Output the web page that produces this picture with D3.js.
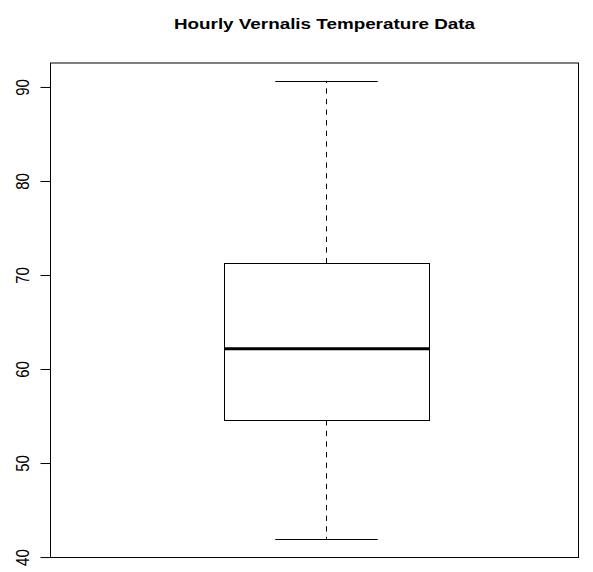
<!DOCTYPE html>
<html>
<head>
<meta charset="utf-8">
<script src="https://cdn.jsdelivr.net/npm/d3@7"></script>
<style>
  html, body { margin: 0; padding: 0; background: #fff; }
  svg { display: block; }
  text { font-family: "Liberation Sans", Arial, Helvetica, sans-serif; fill: #000; }
</style>
</head>
<body>
<svg id="chart" width="593" height="572"></svg>
<script>
// Five-number summary of the hourly temperature series
const title = "Hourly Vernalis Temperature Data";
const statNames = ["min", "q1", "median", "q3", "max"];
const statValues = [41.9, 54.5, 62.1, 71.2, 90.6];
const yTicks = [40, 50, 60, 70, 80, 90];

const stats = Object.fromEntries(statNames.map((n, i) => [n, statValues[i]]));

const plot = { left: 50, right: 578, top: 62.5, bottom: 557 };
const stretchX = 1.24; // glyphs are drawn wider than tall

const svg = d3.select("#chart");

// y range padded 4% on each side of the data range
const span = stats.max - stats.min;
const y = d3.scaleLinear()
  .domain([stats.min - 0.04 * span, stats.max + 0.04 * span])
  .range([plot.bottom, plot.top]);

// single box occupying its band
const x = d3.scaleBand().domain(["temp"]).range([224, 429]);
const boxL = x("temp");
const boxW = x.bandwidth();
const cx = Math.floor(boxL + boxW / 2) + 0.5;
const capW = boxW / 2;

// plot frame
svg.append("rect")
  .attr("x", plot.left + 0.5).attr("y", plot.top + 0.5)
  .attr("width", plot.right - plot.left).attr("height", plot.bottom - plot.top)
  .attr("fill", "none").attr("stroke", "#000").attr("stroke-width", 1);

// y axis
const yAxis = d3.axisLeft(y).tickValues(yTicks).tickSize(10).tickFormat(d3.format("d"));
const ga = svg.append("g").attr("transform", `translate(${plot.left + 0.5},0.5)`).call(yAxis);
ga.select(".domain").remove();
ga.selectAll(".tick line").attr("stroke", "#000");
ga.selectAll(".tick text")
  .attr("font-size", 15)
  .attr("fill", "#000")
  .attr("text-anchor", "middle")
  .attr("dy", null)
  .attr("x", null)
  .attr("transform", `translate(-22,0) scale(${stretchX},1) rotate(-90)`);

// whiskers, dashed from the box out to the extremes
[[stats.q3, stats.max], [stats.q1, stats.min]].forEach(([a, b]) => {
  svg.append("line")
    .attr("x1", cx).attr("x2", cx)
    .attr("y1", y(a)).attr("y2", y(b))
    .attr("stroke", "#000").attr("stroke-dasharray", "5.3,5.3");
});

// staples
[stats.min, stats.max].forEach(v => {
  svg.append("line")
    .attr("x1", cx - capW / 2).attr("x2", cx + capW / 2)
    .attr("y1", Math.round(y(v)) + 0.5).attr("y2", Math.round(y(v)) + 0.5)
    .attr("stroke", "#000");
});

// box
svg.append("rect")
  .attr("x", boxL + 0.5).attr("width", boxW)
  .attr("y", Math.round(y(stats.q3)) + 0.5)
  .attr("height", Math.round(y(stats.q1)) - Math.round(y(stats.q3)))
  .attr("fill", "#fff").attr("stroke", "#000");

// median
svg.append("line")
  .attr("x1", boxL).attr("x2", boxL + boxW + 1)
  .attr("y1", y(stats.median)).attr("y2", y(stats.median))
  .attr("stroke", "#000").attr("stroke-width", 3);

// title
svg.append("text")
  .attr("transform", `translate(324.5,29) scale(${stretchX},1)`)
  .attr("text-anchor", "middle")
  .attr("font-size", 15.2)
  .attr("font-weight", "bold")
  .text(title);
</script>
</body>
</html>
